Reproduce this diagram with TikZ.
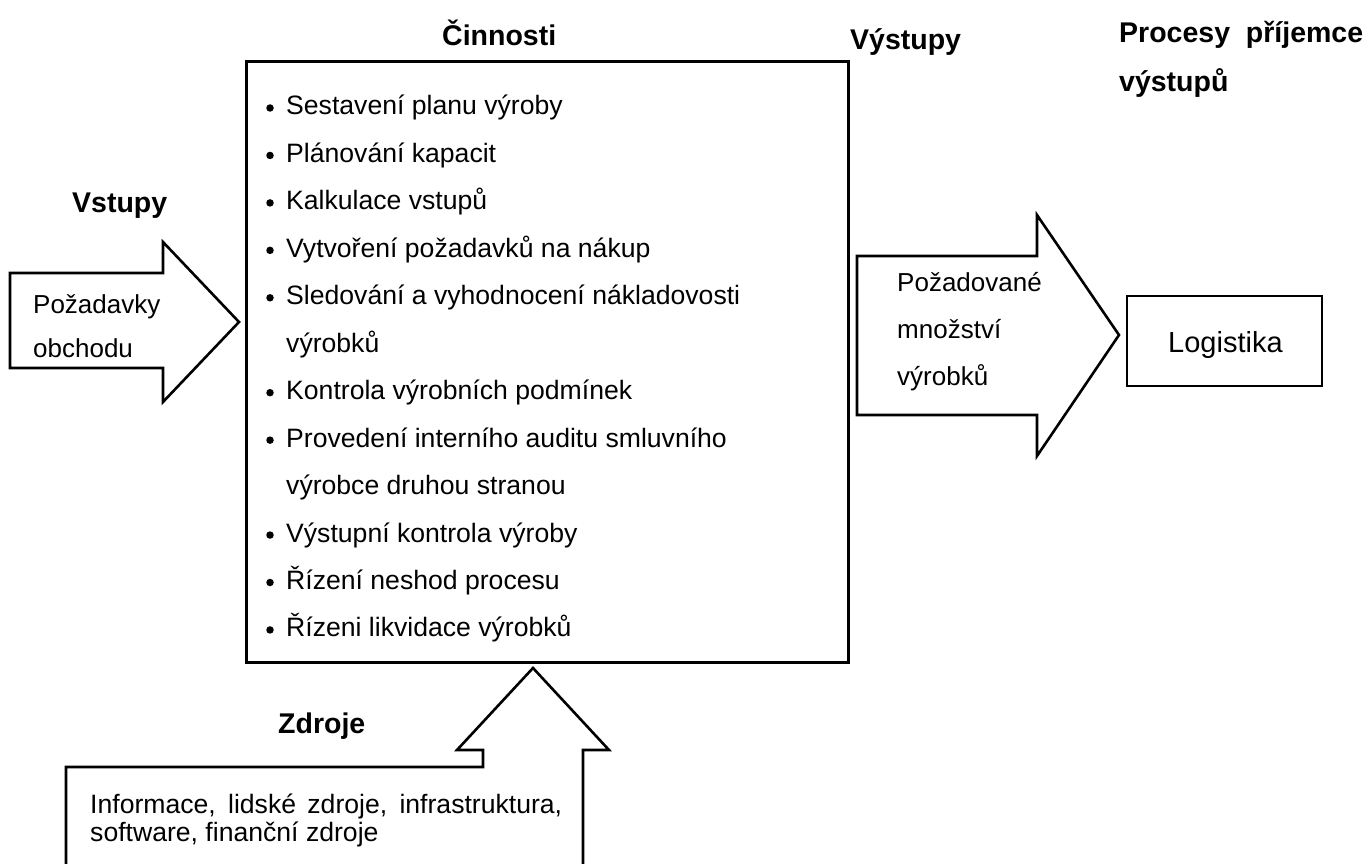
\documentclass[tikz,border=0pt]{standalone}
\usepackage{fontspec}
\setmainfont{Liberation Sans}
\begin{document}
\begin{tikzpicture}[x=1pt,y=-1pt,
  outline/.style={draw=black, line width=2.6pt, line join=miter, fill=white},
  bodytext/.style={font=\fontsize{26.6}{32}\selectfont, anchor=base west, inner sep=0pt},
  arrowtext/.style={font=\fontsize{26}{31}\selectfont, anchor=base west, inner sep=0pt},
  headtext/.style={font=\fontsize{28.5}{34}\selectfont\bfseries, anchor=base west, inner sep=0pt},
  bulletdot/.style={circle, fill=black, inner sep=0pt, minimum size=7.5pt}]

\useasboundingbox (0,0) rectangle (1369,864);

% activities box
\node[draw, line width=3pt, minimum width=602pt, minimum height=601pt,
      anchor=north west, inner sep=0pt] (act) at (245,60) {};

% headings
\node[headtext] (hact) at (442,46) {Činnosti};
\node[headtext] (hout) at (850,50) {Výstupy};
\node[headtext] (hrec1) at (1119,43) {Procesy\ \ příjemce};
\node[headtext] (hrec2) at (1119,92) {výstupů};
\node[headtext] (hin) at (72,212) {Vstupy};
\node[headtext] (hres) at (278,733) {Zdroje};

% bulleted list of activities
\foreach \k/\t in {0/Sestavení planu výroby, 1/Plánování kapacit, 2/Kalkulace vstupů,
    3/Vytvoření požadavků na nákup, 4/Sledování a vyhodnocení nákladovosti,
    6/Kontrola výrobních podmínek, 7/Provedení interního auditu smluvního,
    9/Výstupní kontrola výroby, 10/Řízení neshod procesu, 11/Řízeni likvidace výrobků} {
  \node[bulletdot] (bul\k) at (270,{115+47.45*\k-7}) {};
  \node[bodytext] (item\k) at (286,{115+47.45*\k}) {\t};
}
\node[bodytext] (item5) at (286,{115+47.45*5}) {výrobků};
\node[bodytext] (item8) at (286,{115+47.45*8}) {výrobce druhou stranou};

% input arrow
\draw[outline] (10,273) -- (163,273) -- (163,242) -- (239,322) -- (163,402)
  -- (163,368) -- (10,368) -- cycle;
\node[arrowtext] (in1) at (33,313) {Požadavky};
\node[arrowtext] (in2) at (33,357) {obchodu};

% output arrow
\draw[outline] (857,256) -- (1037,256) -- (1037,215) -- (1119,335) -- (1037,456)
  -- (1037,415) -- (857,415) -- cycle;
\node[arrowtext] (out1) at (897,291) {Požadované};
\node[arrowtext] (out2) at (897,338) {množství};
\node[arrowtext] (out3) at (897,385) {výrobků};

% receiver box
\node[draw, line width=2.6pt, minimum width=195pt, minimum height=90pt,
      inner sep=0pt] (log) at (1224.5,341) {};
\node[font=\fontsize{29}{34}\selectfont, anchor=base west, inner sep=0pt]
  (logtext) at (1168,352) {Logistika};

% resources arrow
\draw[outline] (66,870) -- (66,767) -- (483,767) -- (483,750) -- (457,750)
  -- (533,668) -- (609,750) -- (583,750) -- (583,870);
\node[bodytext] (res1) at (90,813) {\makebox[472pt][s]{Informace, lidské zdroje, infrastruktura,}};
\node[bodytext] (res2) at (90,841) {software, finanční zdroje};
\end{tikzpicture}
\end{document}
